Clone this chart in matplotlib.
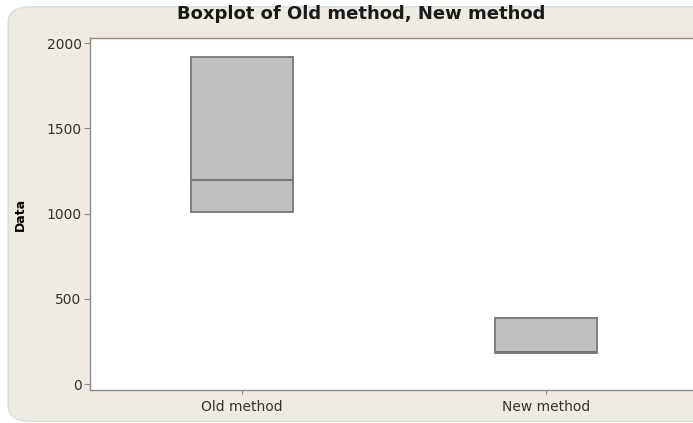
import matplotlib
matplotlib.use('Agg')
import matplotlib.pyplot as plt
from matplotlib.patches import FancyBboxPatch

# Box summary for each method
methods = ["Old method", "New method"]
q1 = [1010, 182]
medians = [1197, 188]
q3 = [1918, 388]
y_ticks = [0, 500, 1000, 1500, 2000]

BEIGE = "#efebe2"
BOX_FILL = "#c0c0c0"
BOX_EDGE = "#777777"
AXIS_GRAY = "#8c8c8c"

fig = plt.figure(figsize=(6.93, 4.23), dpi=100)
fig.patch.set_facecolor("white")

# Rounded beige panel behind the graph
panel = FancyBboxPatch((0.012, 0.004), 1.05, 0.98,
                       boxstyle="round,pad=0,rounding_size=0.035",
                       transform=fig.transFigure, facecolor=BEIGE,
                       edgecolor="#d6dde0", linewidth=1.0, zorder=-10)
fig.patches.append(panel)

ax = fig.add_axes([0.1299, 0.078, 0.8773, 0.832])
ax.set_zorder(1)
ax.set_facecolor("white")

stats = []
for name, lo, med, hi in zip(methods, q1, medians, q3):
    stats.append({"label": name, "q1": lo, "med": med, "q3": hi,
                  "whislo": lo, "whishi": hi, "fliers": []})

ax.bxp(stats, positions=[1, 2], widths=0.335, patch_artist=True,
       showcaps=False, showfliers=False,
       boxprops=dict(facecolor=BOX_FILL, edgecolor=BOX_EDGE, linewidth=1.3),
       medianprops=dict(color=BOX_EDGE, linewidth=1.5),
       whiskerprops=dict(color=BOX_EDGE, linewidth=1.3))

ax.set_xlim(0.5, 2.5)
ax.set_ylim(-35, 2030)
ax.set_yticks(y_ticks)
ax.set_xticks([1, 2])
ax.set_xticklabels(methods)

for side in ["left", "bottom", "top", "right"]:
    ax.spines[side].set_color(AXIS_GRAY)
    ax.spines[side].set_linewidth(1.0)

ax.tick_params(axis="y", direction="out", length=4, color=AXIS_GRAY,
               labelsize=10, labelcolor="#333333", pad=2)
ax.tick_params(axis="x", direction="out", length=3, color=AXIS_GRAY,
               labelsize=10, labelcolor="#333333", pad=4)

ax.set_ylabel("Data", fontsize=9, fontweight="bold", labelpad=14)
fig.text(0.521, 0.966, "Boxplot of Old method, New method",
         ha="center", va="center", fontsize=13, fontweight="bold",
         color="#1a1a1a")

plt.savefig("out.png", dpi=100, facecolor=fig.get_facecolor())
plt.close()
